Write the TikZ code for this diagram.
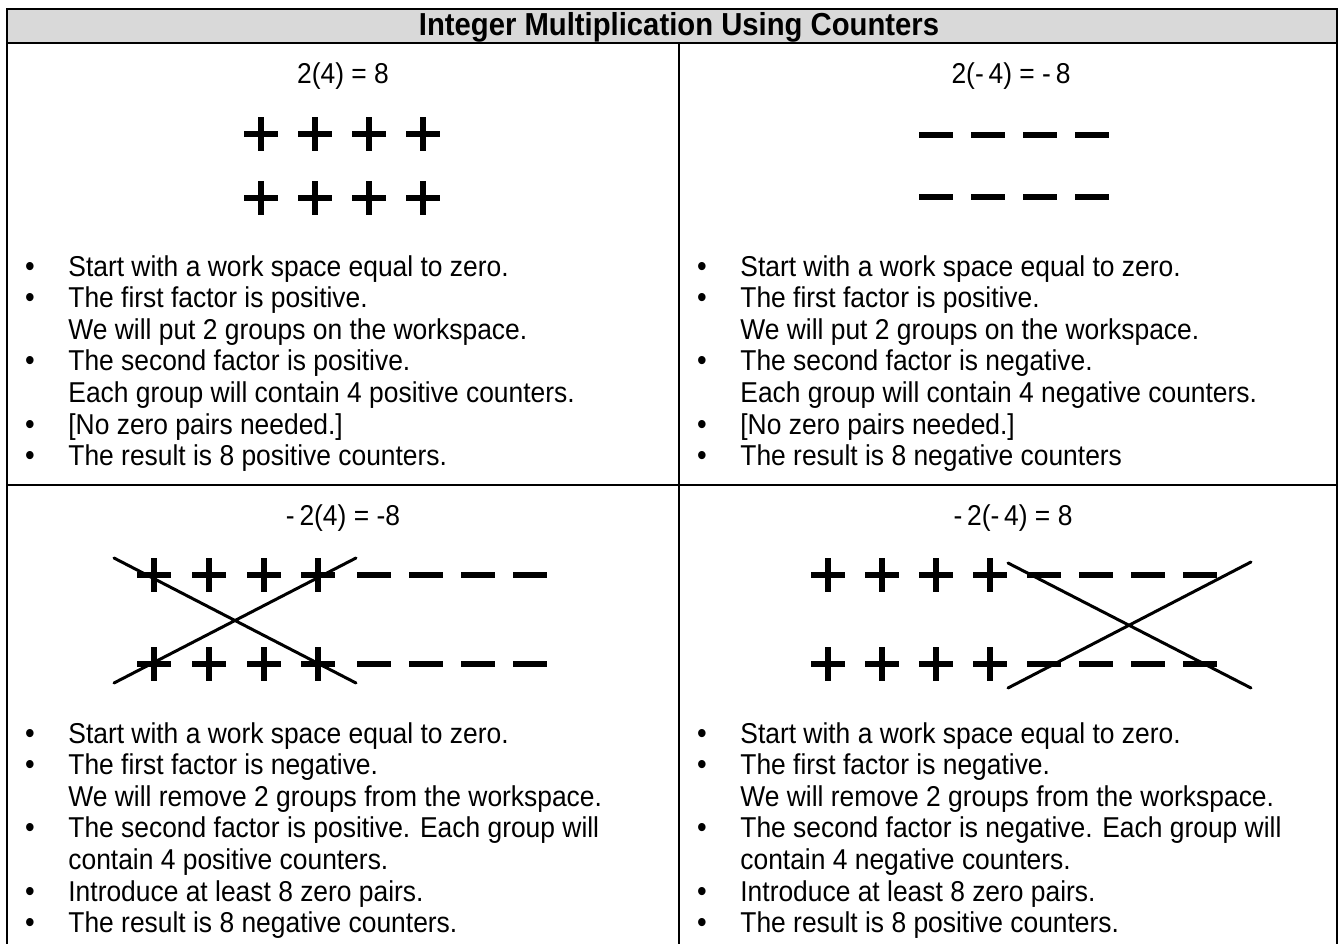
\documentclass[tikz,border=0pt]{standalone}
\usepackage{fontspec}
\setmainfont{Liberation Sans}[FakeStretch=0.92]
\usetikzlibrary{calc}

\begin{document}
\begin{tikzpicture}[x=0.5pt,y=-0.5pt]
% Styles for the table, the texts and the counters
\tikzstyle{grid line}=[line width=1.25pt]
\tikzstyle{strike}=[line width=1.5pt,line cap=round]
\tikzstyle{body}=[anchor=base west,inner sep=0,font=\fontsize{14.35}{17}\selectfont]
\tikzstyle{dot}=[anchor=base,inner sep=0,font=\fontsize{15}{17}\selectfont]
\tikzstyle{sum}=[anchor=base,inner sep=0,font=\fontsize{14.35}{17}\selectfont]
\tikzset{
plus counter/.style={minimum size=17pt,inner sep=0,path picture={
  \draw[line width=3.2pt] (path picture bounding box.west) -- (path picture bounding box.east)
  (path picture bounding box.north) -- (path picture bounding box.south);}},
minus counter/.style={minimum width=17pt,minimum height=3.2pt,inner sep=0,fill=black}
}
\useasboundingbox (0,0) rectangle (1341,944);

% Table frame
\fill[gray!30] (7,9) rectangle (1337,43);
\draw[grid line] (7,950) -- (7,9) -- (1337,9) -- (1337,950);
\draw[grid line] (7,43) -- (1337,43);
\draw[grid line] (7,485) -- (1337,485);
\draw[grid line] (679,43) -- (679,950);
\node[font=\bfseries\fontsize{15.9}{18}\selectfont,anchor=base] (title) at (679,35.5) {Integer Multiplication Using Counters};

% Equations
\node[sum] (eq-tl) at (343,83) {2(4) = 8};
\node[sum] (eq-tr) at (1011,83) {2(-\,4) = -\,8};
\node[sum] (eq-bl) at (343,525) {-\,2(4) = -8};
\node[sum] (eq-br) at (1013,525) {-\,2(-\,4) = 8};

% 2(4): two groups of positives
\foreach \r/\y in {1/134,2/198}
  \foreach \c/\x in {1/261,2/315,3/369,4/423}
    \node[plus counter] (tl-p\r\c) at (\x,\y) {};
% 2(-4): two groups of negatives
\foreach \r/\y in {1/135,2/197}
  \foreach \c/\x in {1/936,2/988,3/1040,4/1092}
    \node[minus counter] (tr-m\r\c) at (\x,\y) {};
% -2(4): zero pairs, positives taken away
\foreach \r/\y in {1/575,2/664}{
  \foreach \c/\x in {1/154,2/209,3/264,4/318}
    \node[plus counter] (bl-p\r\c) at (\x,\y) {};
  \foreach \c/\x in {1/374,2/426,3/478,4/530}
    \node[minus counter] (bl-m\r\c) at (\x,\y) {};
}
% -2(-4): zero pairs, negatives taken away
\foreach \r/\y in {1/575,2/664}{
  \foreach \c/\x in {1/828,2/882,3/936,4/990}
    \node[plus counter] (br-p\r\c) at (\x,\y) {};
  \foreach \c/\x in {1/1044,2/1096,3/1148,4/1200}
    \node[minus counter] (br-m\r\c) at (\x,\y) {};
}

% Crossing out the removed groups
\coordinate (bl-a) at (114,558);
\coordinate (bl-b) at (356,683);
\coordinate (bl-c) at (114,683);
\coordinate (bl-d) at (356,558);
\draw[strike] (bl-a) -- (bl-b) (bl-c) -- (bl-d);
\coordinate (br-a) at (1008,563);
\coordinate (br-b) at (1251,688);
\coordinate (br-c) at (1008,688);
\coordinate (br-d) at (1251,562);
\draw[strike] (br-a) -- (br-b) (br-c) -- (br-d);

% Bullet lists (1 = new bullet, 0 = continued line)
\foreach \b/\t [count=\i from 0] in {1/Start with a work space equal to zero.,
  1/The first factor is positive.,0/We will put 2 groups on the workspace.,
  1/The second factor is positive.,0/Each group will contain 4 positive counters.,
  1/{[No zero pairs needed.]},1/The result is 8 positive counters.}{
  \node[body] (tl-\i) at (68,{276+31.6*\i}) {\t};
  \ifnum\b=1 \node[dot] (tl-dot\i) at (30,{276+31.6*\i}) {\textbullet};\fi
}
\foreach \b/\t [count=\i from 0] in {1/Start with a work space equal to zero.,
  1/The first factor is positive.,0/We will put 2 groups on the workspace.,
  1/The second factor is negative.,0/Each group will contain 4 negative counters.,
  1/{[No zero pairs needed.]},1/The result is 8 negative counters}{
  \node[body] (tr-\i) at (740,{276+31.6*\i}) {\t};
  \ifnum\b=1 \node[dot] (tr-dot\i) at (702,{276+31.6*\i}) {\textbullet};\fi
}
\foreach \b/\t [count=\i from 0] in {1/Start with a work space equal to zero.,
  1/The first factor is negative.,0/We will remove 2 groups from the workspace.,
  1/The second factor is positive. Each group will,0/contain 4 positive counters.,
  1/Introduce at least 8 zero pairs.,1/The result is 8 negative counters.}{
  \node[body] (bl-\i) at (68,{743+31.6*\i}) {\t};
  \ifnum\b=1 \node[dot] (bl-dot\i) at (30,{743+31.6*\i}) {\textbullet};\fi
}
\foreach \b/\t [count=\i from 0] in {1/Start with a work space equal to zero.,
  1/The first factor is negative.,0/We will remove 2 groups from the workspace.,
  1/The second factor is negative. Each group will,0/contain 4 negative counters.,
  1/Introduce at least 8 zero pairs.,1/The result is 8 positive counters.}{
  \node[body] (br-\i) at (740,{743+31.6*\i}) {\t};
  \ifnum\b=1 \node[dot] (br-dot\i) at (702,{743+31.6*\i}) {\textbullet};\fi
}
\end{tikzpicture}
\end{document}
